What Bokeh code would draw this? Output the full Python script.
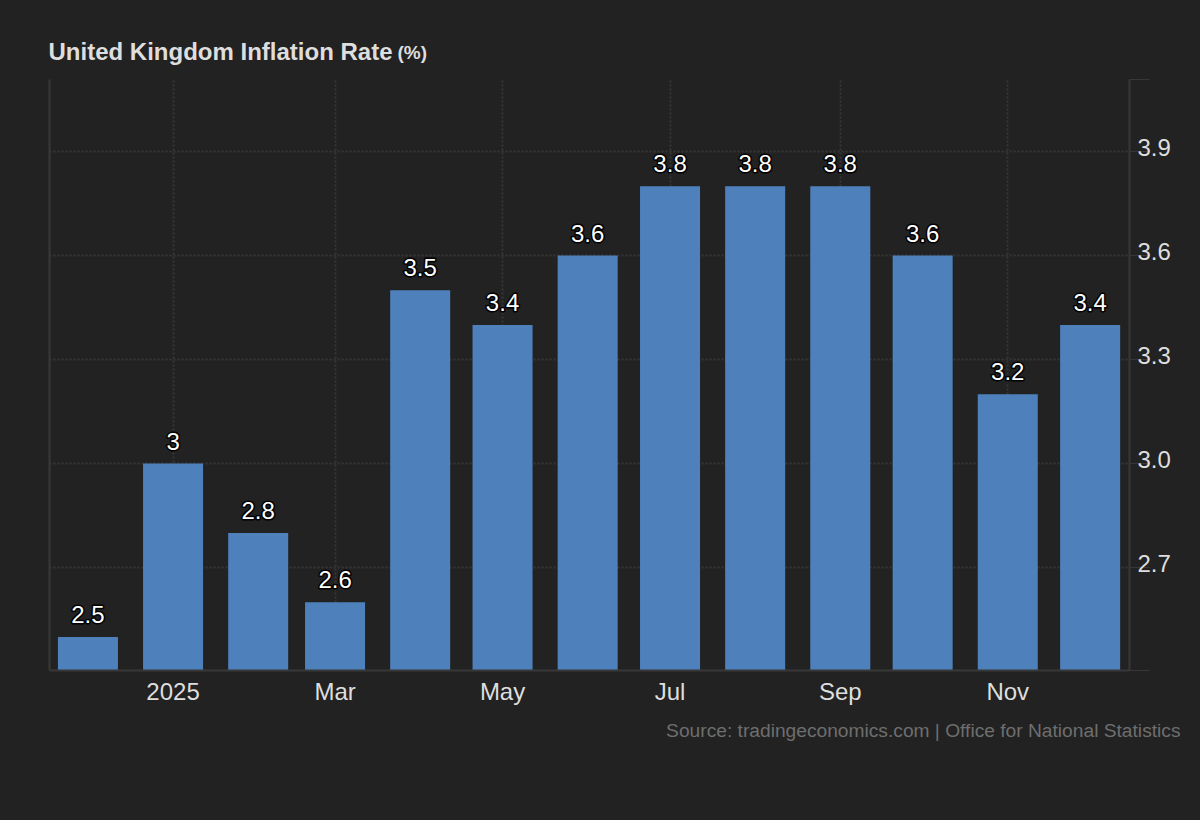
from datetime import datetime
from bokeh.core.properties import value
from bokeh.embed import file_html
from bokeh.resources import INLINE
from bokeh.models import (ColumnDataSource, DatetimeAxis, FixedTicker, Grid, LinearAxis, Range1d, Title)
from bokeh.plotting import figure

months = ["2024-12-01", "2025-01-01", "2025-02-01", "2025-03-01", "2025-04-01", "2025-05-01", "2025-06-01",
          "2025-07-01", "2025-08-01", "2025-09-01", "2025-10-01", "2025-11-01", "2025-12-01"]
values = [2.5, 3.0, 2.8, 2.6, 3.5, 3.4, 3.6, 3.8, 3.8, 3.8, 3.6, 3.2, 3.4]
value_labels = ["2.5", "3", "2.8", "2.6", "3.5", "3.4", "3.6", "3.8", "3.8", "3.8", "3.6", "3.2", "3.4"]
x_tick_dates = ["2025-01-01", "2025-03-01", "2025-05-01", "2025-07-01", "2025-09-01", "2025-11-01"]
x_tick_labels = ["2025", "Mar", "May", "Jul", "Sep", "Nov"]
y_ticks = [2.7, 3.0, 3.3, 3.6, 3.9]
y_tick_labels = ["2.7", "3.0", "3.3", "3.6", "3.9"]
y_min, y_max = 2.403, 4.108
x_min, x_max = "2024-11-17", "2025-12-15T08:00:00"
BAR_DAYS = 21.86
LABEL_SHIFT = 0.01154

BG = "#222222"
GRID = "#363636"
AXIS = "#383838"
BAR = "#4e80bc"
TEXT = "#dedede"
FONT = "Liberation Sans"


def ms(s):
    return (datetime.fromisoformat(s) - datetime(1970, 1, 1)).total_seconds() * 1000


dates = [datetime.fromisoformat(m) for m in months]
src = ColumnDataSource(dict(x=dates, top=values, bottom=[y_min] * len(values), label=value_labels))

p = figure(width=1192, height=812, output_backend="svg", toolbar_location=None,
           x_axis_type=None, y_axis_type=None,
           x_range=Range1d(datetime.fromisoformat(x_min), datetime.fromisoformat(x_max)),
           y_range=Range1d(y_min, y_max),
           min_border_left=49, min_border_right=63, min_border_top=79, min_border_bottom=142,
           background_fill_color=BG, border_fill_color=BG, outline_line_color=None)
p.extra_y_ranges = {"labels": Range1d(y_min - LABEL_SHIFT, y_max - LABEL_SHIFT)}

xt = [ms(d) for d in x_tick_dates]
xaxis = DatetimeAxis(ticker=FixedTicker(ticks=xt))
xaxis.major_label_overrides = dict(zip(xt, x_tick_labels))
xaxis.major_label_text_color = TEXT
xaxis.major_label_text_font = FONT
xaxis.major_label_text_font_size = "24px"
xaxis.major_label_standoff = 1
xaxis.major_tick_line_color = None
xaxis.minor_tick_line_color = None
xaxis.axis_line_color = AXIS
xaxis.axis_line_width = 2
p.add_layout(xaxis, "below")

yt = [y_min] + y_ticks + [y_max]
tick_axis = LinearAxis(ticker=FixedTicker(ticks=yt))
tick_axis.major_label_overrides = {v: "" for v in yt}
tick_axis.major_label_text_font_size = "1px"
tick_axis.major_label_standoff = 0
tick_axis.major_tick_out = 20
tick_axis.major_tick_in = 0
tick_axis.major_tick_line_color = AXIS
tick_axis.minor_tick_line_color = None
tick_axis.axis_line_color = AXIS
tick_axis.axis_line_width = 2
p.add_layout(tick_axis, "right")

label_axis = LinearAxis(y_range_name="labels", ticker=FixedTicker(ticks=y_ticks))
label_axis.major_label_overrides = dict(zip(y_ticks, y_tick_labels))
label_axis.major_label_text_color = TEXT
label_axis.major_label_text_font = FONT
label_axis.major_label_text_font_size = "24px"
label_axis.major_label_standoff = -18
label_axis.major_tick_line_color = None
label_axis.minor_tick_line_color = None
label_axis.axis_line_color = None
p.add_layout(label_axis, "right")

left_axis = LinearAxis(ticker=FixedTicker(ticks=[]))
left_axis.major_label_text_font_size = "1px"
left_axis.major_tick_line_color = None
left_axis.minor_tick_line_color = None
left_axis.axis_line_color = AXIS
left_axis.axis_line_width = 2
p.add_layout(left_axis, "left")

for dim, tick_vals in ((0, xt), (1, yt)):
    g = Grid(dimension=dim, ticker=FixedTicker(ticks=tick_vals))
    g.grid_line_color = GRID
    g.grid_line_dash = [2, 2]
    g.grid_line_width = 2
    p.add_layout(g)

p.vbar(x="x", top="top", bottom="bottom", width=BAR_DAYS * 86400000, source=src, fill_color=BAR, line_color=None)

p.text(x="x", y="top", text="label", source=src, text_align="center", text_baseline="bottom",
       y_offset=-14, text_color="#ffffff", text_font=value(FONT), text_font_size="24px")

p.add_layout(Title(text="United Kingdom Inflation Rate", align="left", offset=-1, standoff=30, text_color=TEXT,
                   text_font=FONT, text_font_style="bold", text_font_size="24px"), "above")
p.add_layout(Title(text="(%)", align="left", offset=348, standoff=-84, text_color=TEXT,
                   text_font=FONT, text_font_style="bold", text_font_size="19px"), "above")
p.add_layout(Title(text="Source: tradingeconomics.com | Office for National Statistics", align="right", offset=-51,
                   standoff=20, text_color="#6e6e6e", text_font=FONT, text_font_style="normal",
                   text_font_size="19.2px"), "below")

OUTLINE_JS = """
<script>
(function () {
  function walk(root) {
    root.querySelectorAll('*').forEach(function (el) {
      if (el.shadowRoot) walk(el.shadowRoot);
      if (el.tagName && el.tagName.toLowerCase() === 'text') {
        var f = (el.getAttribute('fill') || '').replace(/\\s/g, '').toLowerCase();
        if (f === '#ffffff' || f === 'rgb(255,255,255)' || f === 'white') {
          el.style.paintOrder = 'stroke';
          el.style.stroke = '#000000';
          el.style.strokeWidth = '3px';
          el.style.strokeLinejoin = 'round';
        }
      }
    });
  }
  var n = 0, id = setInterval(function () { walk(document); if (++n > 60) clearInterval(id); }, 50);
})();
</script>
"""

html = file_html(p, INLINE, title="United Kingdom Inflation Rate")
html = html.replace("<head>", "<head><style>html,body{background:#222222;}</style>", 1)
html = html.replace("</body>", OUTLINE_JS + "</body>", 1)
open("out.html", "w").write(html)
